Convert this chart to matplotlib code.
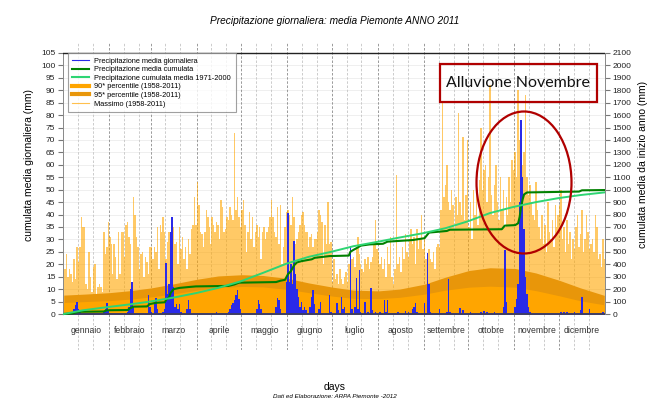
import numpy as np
import matplotlib
matplotlib.use("Agg")
import matplotlib.pyplot as plt
from matplotlib.lines import Line2D
from matplotlib.patches import Ellipse, Rectangle

plt.rcParams['font.family'] = ['Liberation Sans', 'DejaVu Sans']

###########
# DATA
###########
months = ['gennaio', 'febbraio', 'marzo', 'aprile', 'maggio', 'giugno',
          'luglio', 'agosto', 'settembre', 'ottobre', 'novembre', 'dicembre']
month_len = [31, 28, 31, 30, 31, 30, 31, 31, 30, 31, 30, 31]

# Massimo giornaliero 1958-2011 (mm), one list per month
max_gen = [26, 18, 24, 15, 18, 16, 13, 22, 14, 27, 21, 27, 39, 35, 35, 12, 10, 25, 15, 9,
           19, 20, 8, 11, 12, 11, 9, 33, 24, 27, 37]
max_feb = [31, 28, 16, 28, 23, 14, 33, 16, 33, 33, 23, 36, 37, 31, 28, 12, 47, 40, 31, 27,
           18, 24, 25, 15, 23, 21, 16, 27]
max_mar = [27, 22, 27, 25, 35, 18, 36, 33, 39, 33, 22, 29, 33, 25, 39, 35, 28, 29, 20, 35,
           26, 31, 22, 27, 18, 30, 24, 34, 36, 47, 36]
max_apr = [53, 44, 33, 32, 27, 33, 42, 39, 35, 28, 39, 36, 33, 37, 36, 30, 46, 43, 33, 34,
           39, 38, 43, 40, 38, 73, 42, 47, 39, 35]
max_mag = [42, 46, 36, 25, 33, 41, 30, 39, 27, 33, 36, 31, 35, 22, 33, 35, 30, 33, 35, 39,
           46, 39, 33, 31, 43, 28, 44, 20, 27, 35, 41]
max_giu = [42, 40, 36, 47, 39, 28, 30, 33, 36, 40, 41, 36, 33, 33, 27, 31, 32, 27, 30, 30,
           33, 42, 40, 37, 20, 36, 28, 45, 28, 29]
max_lug = [13, 22, 14, 16, 12, 18, 14, 12, 15, 17, 13, 20, 27, 22, 23, 19, 26, 31, 24, 20,
           18, 17, 22, 20, 23, 18, 21, 23, 28, 38, 26]
max_ago = [25, 20, 23, 18, 22, 15, 27, 20, 31, 15, 12, 18, 56, 20, 23, 17, 27, 22, 32, 25,
           23, 30, 34, 28, 31, 20, 34, 26, 30, 40, 26]
max_set = [30, 22, 20, 26, 22, 21, 25, 18, 27, 28, 27, 42, 85, 47, 52, 60, 45, 42, 50, 44,
           34, 47, 40, 81, 45, 40, 71, 38, 48, 70]
max_ott = [35, 45, 30, 50, 40, 55, 36, 54, 75, 50, 58, 60, 45, 55, 92, 48, 40, 52, 60, 45,
           38, 55, 42, 50, 35, 47, 40, 55, 45, 62, 58]
max_nov = [65, 55, 90, 70, 78, 60, 65, 88, 55, 48, 52, 45, 40, 38, 53, 42, 35, 30, 40, 28,
           36, 25, 45, 33, 30, 38, 27, 44, 35, 40]
max_dic = [44, 50, 30, 35, 25, 38, 28, 33, 22, 30, 26, 35, 40, 27, 32, 42, 25, 30, 40, 33,
           26, 28, 30, 25, 40, 35, 22, 24, 19, 30, 22]

# Precipitazione media giornaliera 2011 (mm), days with rain
rain_days = [7, 8, 9, 10, 11, 12, 28, 29, 30, 31,
             44, 45, 46, 47, 48, 58, 59, 60, 62, 63, 64,
             68, 69, 70, 71, 72, 73, 74, 75, 76, 77, 78, 79, 80, 84, 85, 86,
             104, 112, 113, 114, 115, 116, 117, 118, 119, 120,
             131, 132, 133, 134, 144, 145, 146, 147, 151,
             152, 153, 154, 155, 156, 157, 158, 159, 160, 161, 162, 163, 164, 167, 168, 169, 170, 173, 174,
             180, 181, 185, 186, 188, 189, 190, 194, 195, 197, 198, 199, 200, 201, 204, 206, 208, 209, 211,
             214, 217, 218, 219, 226, 231, 233, 236, 237, 238, 239, 244,
             246, 247, 248, 254, 259, 260, 261, 268, 270,
             275, 282, 284, 286, 291, 297, 298, 299,
             305, 306, 307, 308, 309, 310, 311, 312, 313, 314, 315, 322, 336, 338,
             340, 345, 349, 350, 355, 364]
rain_mm = [1, 2, 3.5, 5, 2, 1, 1, 2, 4.5, 1.5,
           1, 3, 10, 12.8, 3, 7.5, 3, 1, 5, 6.5, 2,
           1, 2, 20.5, 8, 12, 33, 39, 11, 3, 4, 2, 4, 1, 2, 5.5, 2,
           1, 1, 2, 3.5, 4.5, 5.5, 7.5, 9.5, 6, 2,
           2, 5.5, 4, 2, 3, 6.5, 5.5, 2, 13,
           40.5, 13, 20, 12, 29.5, 16, 10, 7, 3, 5, 1.5, 3, 1.5, 3, 7, 9.5, 4, 2, 5,
           7.6, 1, 4.3, 1.5, 6.8, 2, 3, 27.5, 2, 3, 14.3, 2, 17.7, 1, 5, 1, 10.3, 1.5, 1,
           1, 5.7, 1, 5.7, 1, 1.4, 1, 2, 3, 4.3, 1, 4.4,
           24.4, 12, 1, 2, 1, 14, 1, 2.6, 1.5,
           1, 1, 1.1, 1, 1, 3, 25.7, 5,
           3, 6, 12, 45, 78, 55, 34, 15, 8, 3, 1, 0.5, 1, 1,
           1, 1, 1.5, 6.7, 1.9, 1]

# Percentili 90 e 95 (1958-2011), mm
pct_days = [1, 15, 32, 46, 60, 74, 91, 105, 121, 135, 152, 166, 182, 196, 213, 227,
            244, 258, 274, 288, 305, 319, 335, 349, 365]
pct95 = [7.6, 8.0, 8.6, 9.4, 10.5, 12.0, 14.0, 15.3, 15.8, 15.5, 14.3, 12.5, 10.8, 9.6,
         9.3, 10.0, 12.0, 14.8, 17.5, 18.6, 18.3, 16.5, 13.5, 10.5, 7.5]
pct90 = [4.6, 5.0, 5.4, 6.0, 6.9, 8.0, 9.6, 10.6, 11.1, 10.9, 9.9, 8.6, 7.2, 6.3,
         6.2, 6.7, 8.0, 9.6, 10.8, 11.2, 10.8, 9.4, 7.3, 5.3, 3.7]

# Cumulata 2011 (mm, right axis)
cum_days = [1, 7, 11, 28, 30, 44, 46, 48, 57, 59, 63, 69, 70, 72, 73, 75, 79, 86, 90, 112,
            116, 119, 144, 147, 150, 152, 154, 156, 158, 161, 168, 170, 180, 193, 194, 196,
            199, 201, 207, 216, 219, 236, 244, 246, 247, 259, 261, 296, 298, 305, 307, 308,
            309, 310, 311, 313, 348, 350, 365]
cum_mm = [0, 5, 18, 20, 30, 32, 48, 59, 61, 80, 90, 94, 115, 135, 170, 200, 210, 218, 222, 226,
          238, 252, 257, 268, 275, 320, 345, 390, 415, 425, 440, 452, 466, 470, 500, 515,
          535, 550, 560, 565, 582, 595, 610, 640, 655, 668, 678, 682, 711, 715, 730, 780,
          860, 920, 962, 978, 985, 995, 997]

# Cumulata media 1971-2000 (mm, right axis)
clim_days = [1, 14, 32, 46, 59, 74, 90, 105, 120, 135, 151, 166, 181, 196, 212, 227, 243,
             258, 273, 288, 304, 319, 334, 349, 365]
clim_mm = [0, 30, 58, 78, 100, 130, 168, 210, 262, 330, 405, 460, 500, 545, 580, 615, 650,
           690, 745, 812, 862, 900, 932, 957, 978]

###########
# CREATING THE GRAPH
###########
massimo = np.concatenate([max_gen, max_feb, max_mar, max_apr, max_mag, max_giu,
                          max_lug, max_ago, max_set, max_ott, max_nov, max_dic])
days = np.arange(1, len(massimo) + 1)
month_start = np.cumsum([0] + month_len[:-1]) + 1

fig = plt.figure(figsize=(6.48, 4.03), dpi=100)
ax = fig.add_axes([63 / 648, 1 - 350 / 403, 542 / 648, 308 / 403])
ylo, yhi = -14.48, 109.41

# grid
for v in range(5, 105, 5):
    ax.axhline(v, color='#ececec', lw=0.6, zorder=0)
for i, s in enumerate(month_start):
    if i > 0:
        ax.axvline(s - 0.5, color='#8a8a8a', lw=0.6, ls=(0, (3, 2)), zorder=0.5)
    ax.axvline(s + 9.5, color='#c4c4c4', lw=0.6, ls=(0, (3, 2)), zorder=0.5)
    ax.axvline(s + 19.5, color='#c4c4c4', lw=0.6, ls=(0, (3, 2)), zorder=0.5)

ax.bar(days, massimo, width=1.0, color='#FFA500', alpha=0.6, linewidth=0, zorder=1)
ax.fill_between(pct_days, 0, pct95, color='#E8960A', linewidth=0, zorder=2)
ax.fill_between(pct_days, 0, pct90, color='#FFA500', linewidth=0, zorder=2.1)
ax.bar(rain_days, rain_mm, width=1.0, color='#2a2ae8', linewidth=0, zorder=3)

ax.axhline(0, color='#3d3d66', lw=1.4, zorder=4)
ax.axhline(105, color='#222222', lw=1.0, zorder=4)

ax.set_xlim(0.5, 365.5)
ax.set_ylim(ylo, yhi)
ax.set_xticks([])
ax.set_yticks(range(0, 106, 5))
ax.tick_params(axis='y', labelsize=6, length=3.5, pad=2, color='#777777', labelcolor='#222222')
for sp in ['top', 'bottom', 'right']:
    ax.spines[sp].set_visible(False)
ax.spines['left'].set_bounds(0, 105)
ax.spines['left'].set_color('#888888')
ax.spines['left'].set_linewidth(0.7)

for i, s in enumerate(month_start):
    ax.text(s + month_len[i] / 2 - 0.5, -6.8, months[i], ha='center', va='center',
            fontsize=6.2, color='#333333')

# cumulative on right axis
ax2 = ax.twinx()
ax2.set_ylim(ylo * 20, yhi * 20)
ax2.plot(cum_days, cum_mm, color='#008000', lw=1.5, zorder=5)
ax2.plot(clim_days, clim_mm, color='#2ed573', lw=1.4, zorder=5)
ax2.set_yticks(range(0, 2101, 100))
ax2.tick_params(axis='y', labelsize=6, length=3.5, pad=2, color='#777777', labelcolor='#222222')
for sp in ['top', 'bottom', 'left']:
    ax2.spines[sp].set_visible(False)
ax2.spines['right'].set_bounds(0, 2100)
ax2.spines['right'].set_color('#888888')
ax2.spines['right'].set_linewidth(0.7)

handles = [
    Line2D([], [], color='#2a2ae8', lw=0.8),
    Line2D([], [], color='#008000', lw=1.5),
    Line2D([], [], color='#2ed573', lw=1.5),
    Line2D([], [], color='#FFA500', lw=3),
    Line2D([], [], color='#E8960A', lw=3),
    Line2D([], [], color='#FFC04D', lw=0.8),
]
labels = ['Precipitazione media giornaliera', 'Precipitazione media cumulata',
          'Precipitazione cumulata media 1971-2000', '90* percentile (1958-2011)',
          '95* percentile (1958-2011)', 'Massimo (1958-2011)']
leg = ax2.legend(handles, labels, loc='upper left', bbox_to_anchor=(68 / 648, 1 - 53 / 403),
                 bbox_transform=fig.transFigure, fontsize=5.3, frameon=True, fancybox=False,
                 edgecolor='#888888', borderaxespad=0, handlelength=2.2, handletextpad=0.8,
                 labelspacing=0.2, borderpad=0.6)
leg.get_frame().set_linewidth(0.8)
leg.set_zorder(10)

# annotations
fig.add_artist(Rectangle((440 / 648, 1 - 102 / 403), 157 / 648, 38 / 403, transform=fig.transFigure,
                         facecolor='none', edgecolor='#B00000', lw=1.6, zorder=11))
fig.text(518 / 648, 1 - 83 / 403, 'Alluvione Novembre', ha='center', va='center',
         fontsize=11.5, family=['Lato', 'DejaVu Sans'], color='#111111', zorder=12)
fig.add_artist(Ellipse((524 / 648, 1 - 182.5 / 403), 95 / 648, 142 / 403, transform=fig.transFigure,
                       facecolor='none', edgecolor='#B00000', lw=1.6, zorder=11))

# titles and labels
fig.text(335 / 648, 1 - 21 / 403, 'Precipitazione giornaliera: media Piemonte ANNO 2011',
         ha='center', va='center', fontsize=7.3, style='italic')
fig.text(29 / 648, 1 - 165 / 403, 'cumulata media giornaliera (mm)', rotation=90,
         ha='center', va='center', fontsize=7.5)
fig.text(643 / 648, 1 - 164 / 403, 'cumulata media da inizio anno (mm)', rotation=90,
         ha='center', va='center', fontsize=7.5)
fig.text(335 / 648, 1 - 387 / 403, 'days', ha='center', va='center', fontsize=7.5)
fig.text(335 / 648, 1 - 397 / 403, 'Dati ed Elaborazione: ARPA Piemonte -2012',
         ha='center', va='center', fontsize=4.5, style='italic')

fig.savefig('out.png', dpi=100)
plt.close(fig)
